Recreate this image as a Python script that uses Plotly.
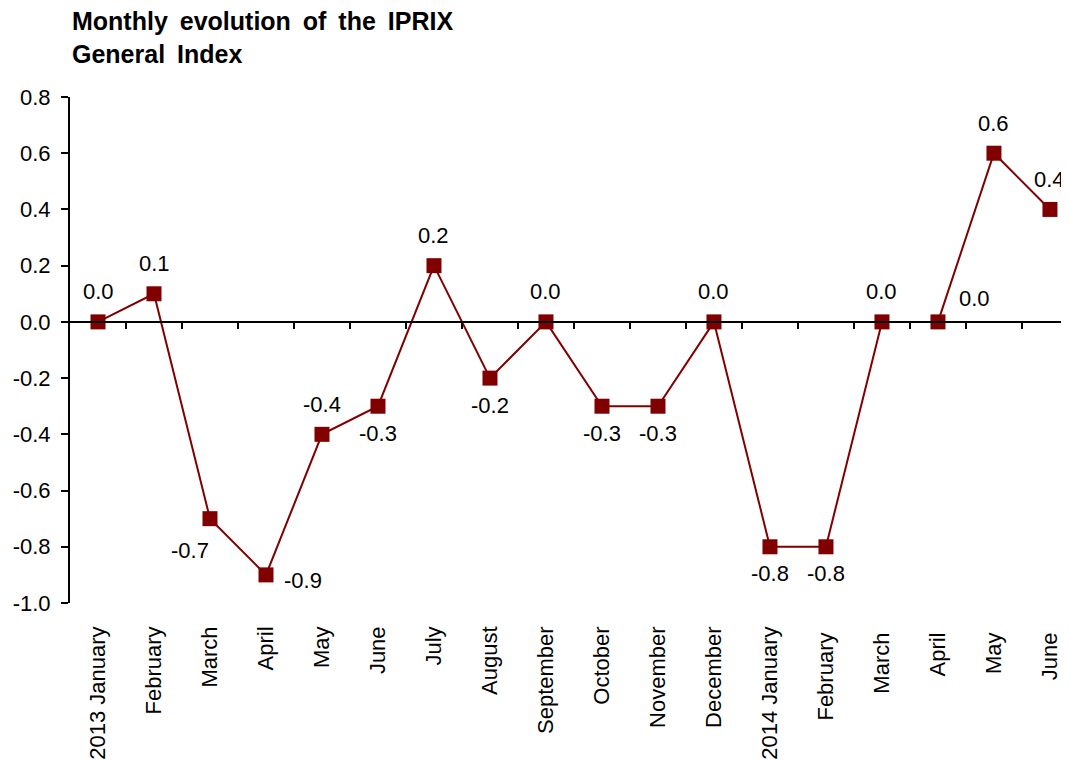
import plotly.graph_objects as go

months = ["2013 January", "February", "March", "April", "May", "June", "July",
          "August", "September", "October", "November", "December",
          "2014 January", "February ", "March ", "April ", "May ", "June "]
values = [0.0, 0.1, -0.7, -0.9, -0.4, -0.3, 0.2, -0.2, 0.0, -0.3, -0.3, 0.0,
          -0.8, -0.8, 0.0, 0.0, 0.6, 0.4]
label_pos = ["top", "top", "bottom left", "right", "top",
             "bottom", "top", "bottom", "top", "bottom",
             "bottom", "top", "bottom", "bottom", "top",
             "top right", "top", "top"]
y_ticks = [-1.0, -0.8, -0.6, -0.4, -0.2, 0.0, 0.2, 0.4, 0.6, 0.8]
y_ticktext = ["-1.0", "-0.8", "-0.6", "-0.4", "-0.2", "0.0", "0.2", "0.4", "0.6", "0.8"]

FONT = "Liberation Sans, Arial, sans-serif"
RED = "#800000"
W, H = 1061, 752   # page body has an 8px margin
n = len(months)
xr = [-0.5, n - 0.66]
yr = [-1.0, 0.8]

# label placement style: (xanchor, xshift, yshift)
PLACE = {
    "top": ("center", 0, 30),
    "bottom": ("center", 0, -27),
    "bottom left": ("right", 1, -32),
    "right": ("left", 16, -6),
    "top right": ("left", 19, 23),
}

fig = go.Figure()
fig.add_trace(go.Scatter(
    x=months, y=values, mode="lines+markers",
    line=dict(color=RED, width=2),
    marker=dict(symbol="square", size=15, color=RED),
    cliponaxis=False, hoverinfo="skip", showlegend=False,
))
# invisible trace to anchor the zero-line axis
fig.add_trace(go.Scatter(x=[0], y=[None], xaxis="x2", yaxis="y", showlegend=False,
                         hoverinfo="skip"))

for m, v, p in zip(months, values, label_pos):
    xa, xs, ys = PLACE[p]
    fig.add_annotation(x=m, y=v, xref="x", yref="y", text=f"{v:.1f}",
                       showarrow=False, xanchor=xa, yanchor="middle",
                       xshift=xs, yshift=ys,
                       font=dict(family=FONT, size=22, color="black"))

title_text = ("<b>Monthly \u2009evolution \u2009of \u2009the \u2009IPRIX<br>"
              "General \u2009Index</b>")

fig.update_layout(
    width=W, height=H,
    margin=dict(l=62, r=0, t=89, b=155),
    paper_bgcolor="white", plot_bgcolor="white",
    font=dict(family=FONT, color="black"),
    title=dict(text=title_text,
               x=64 / W, xref="container", xanchor="left",
               y=1 - 22 / H, yref="container", yanchor="top",
               font=dict(family=FONT, size=25, color="black")),
    xaxis=dict(type="category", categoryarray=months, range=xr,
               showline=False, showgrid=False, zeroline=False, ticks="",
               tickangle=-90, tickfont=dict(family=FONT, size=22, color="black"),
               ticklabelstandoff=18),
    xaxis2=dict(overlaying="x", anchor="free",
                position=(0 - yr[0]) / (yr[1] - yr[0]),
                range=xr, showline=True, linecolor="black", linewidth=2,
                ticks="outside", ticklen=6, tickwidth=1.5, tickcolor="black",
                tickvals=[i + 0.5 for i in range(n)], showticklabels=False,
                showgrid=False, zeroline=False, side="bottom"),
    yaxis=dict(range=yr, tickvals=y_ticks, ticktext=y_ticktext,
               showline=True, linecolor="black", linewidth=2,
               ticks="outside", ticklen=7, tickwidth=1.5, tickcolor="black",
               showgrid=False, zeroline=False, ticklabelstandoff=6,
               tickfont=dict(family=FONT, size=22, color="black")),
)

fig.write_html("out.html")
